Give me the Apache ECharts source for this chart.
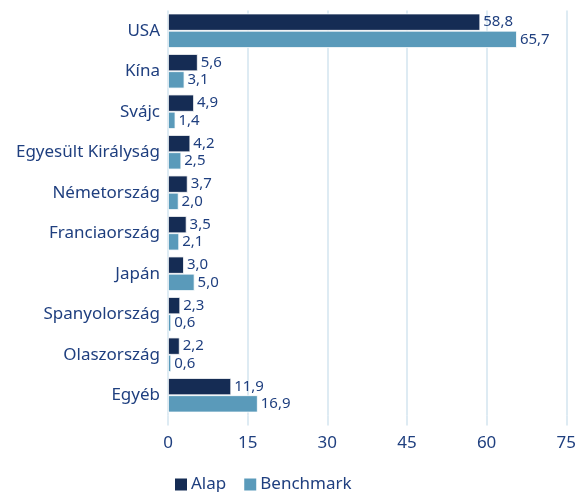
<!DOCTYPE html>
<html><head><meta charset="utf-8">
<script src="https://cdn.jsdelivr.net/npm/echarts@6/dist/echarts.min.js"></script>
<style>html,body{margin:0;padding:0;background:#fff}#c{width:579px;height:492px}</style>
</head><body><div id="c"></div>
<script>
const categories = ["USA","Kína","Svájc","Egyesült Királyság","Németország","Franciaország","Japán","Spanyolország","Olaszország","Egyéb"];
const alap = [58.8,5.6,4.9,4.2,3.7,3.5,3.0,2.3,2.2,11.9];
const benchmark = [65.7,3.1,1.4,2.5,2.0,2.1,5.0,0.6,0.6,16.9];
const seriesNames = ["Alap","Benchmark"];
const xTicks = {min:0,max:75,interval:15};

const txt = '#1f3f7f';
const font = '"Noto Sans", sans-serif';
const fmt = p => p.value.toFixed(1).replace('.', ',');
const chart = echarts.init(document.getElementById('c'));
chart.setOption({
  animation:false,
  textStyle:{fontFamily:font},
  grid:{left:168,right:11,top:10.5,bottom:76.5,containLabel:false},
  legend:{left:168,top:471,itemWidth:14,itemHeight:14,itemGap:16,icon:'rect',
    textStyle:{color:txt,fontSize:17,fontFamily:font,padding:[0,0,0,-2]},data:seriesNames},
  xAxis:{type:'value',min:xTicks.min,max:xTicks.max,interval:xTicks.interval,
    axisLine:{show:false},
    axisTick:{show:true,length:10,lineStyle:{color:'#d3e5ef',width:1.5}},
    splitLine:{show:true,lineStyle:{color:'#d3e5ef',width:1.5}},
    axisLabel:{color:txt,fontSize:17,margin:19,fontFamily:font}},
  yAxis:{type:'category',inverse:true,data:categories,
    axisLine:{show:false},axisTick:{show:false},
    axisLabel:{color:txt,fontSize:17,margin:8,fontFamily:font}},
  series:[
    {name:seriesNames[0],type:'bar',data:alap,barGap:'0%',barCategoryGap:'15%',
     itemStyle:{color:'#152c54',borderColor:'#fff',borderWidth:0.8},
     label:{show:true,position:'right',distance:3,color:txt,fontSize:15,fontFamily:font,formatter:fmt}},
    {name:seriesNames[1],type:'bar',data:benchmark,barGap:'0%',barCategoryGap:'15%',
     itemStyle:{color:'#5a9aba',borderColor:'#fff',borderWidth:0.8},
     label:{show:true,position:'right',distance:3,color:txt,fontSize:15,fontFamily:font,formatter:fmt}}
  ]
});
</script></body></html>
